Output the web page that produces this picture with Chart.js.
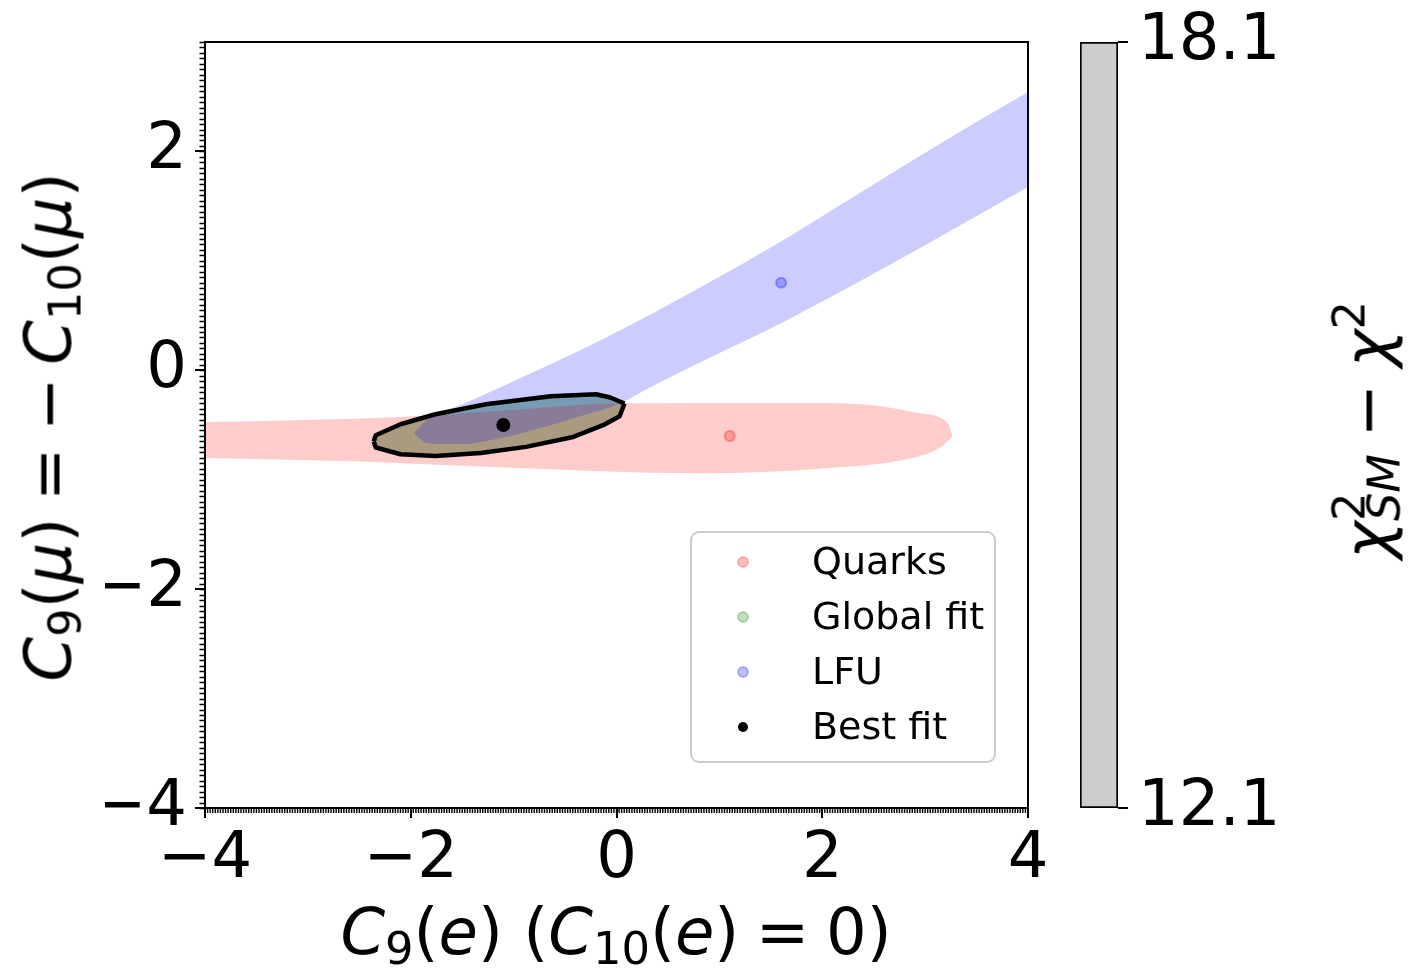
<!DOCTYPE html>
<html>
<head>
<meta charset="utf-8">
<script src="https://cdn.jsdelivr.net/npm/chart.js@4.4.1/dist/chart.umd.min.js"></script>
<style>
body { margin: 0; background: #fff; }
#wrap { position: relative; width: 1424px; height: 979px; overflow: hidden; font-family: 'DejaVu Sans'; }
canvas { position: absolute; top: 0; }
.lbl { position: absolute; font-size: 64px; line-height: 64px; white-space: nowrap; color: #000; }
.i { font-style: italic; }
.sb { font-size: 0.7em; position: relative; top: 0.23em; }
.sp { font-size: 0.7em; position: relative; top: -0.55em; }
.op { margin: 0 -0.06em; }
</style>
</head>
<body>
<div id="wrap">
  <canvas id="main" width="1424" height="979" style="left:0"></canvas>
  <canvas id="cbar" width="354" height="979" style="left:1070px"></canvas>
  <div class="lbl" id="xt" style="left:616px; top:900px; transform:translateX(-50%)"><span class="i">C</span><span class="sb">9</span>(<span class="i">e</span>) (<span class="i">C</span><span class="sb">10</span>(<span class="i">e</span>)<span class="op"> = </span>0)</div>
  <div class="lbl" id="yt" style="left:52px; top:427px; transform:translate(-50%,-50%) rotate(-90deg)"><span class="i">C</span><span class="sb">9</span>(<span class="i">μ</span>)<span class="op"> = </span>−<span class="op"> </span><span class="i">C</span><span class="sb">10</span>(<span class="i">μ</span>)</div>
  <div class="lbl" id="ct" style="left:1371px; top:430px; transform:translate(-50%,-50%) rotate(-90deg)"><span class="i">χ</span><span class="sp">2</span><span class="sb i" style="margin-left:-0.636em">SM</span><span class="op"> − </span><span class="i">χ</span><span class="sp">2</span></div>
</div>
<script>
// axis ranges and ticks
const xRange = [-4, 4];
const yRange = [-4, 3];
const xTicks = [-4, -2, 0, 2, 4];
const yTicks = [-4, -2, 0, 2];
const xMinorStep = 0.025;
const yMinorStep = 0.05;
const cbarRange = [12.1, 18.1];
const cbarTicks = [12.1, 18.1];

// global fit contour (upper and lower edge, shared end points)
const globalUpper = [[-2.36, -0.65], [-2.34, -0.594], [-2.10, -0.493], [-1.76, -0.402], [-1.27, -0.311],
  [-0.64, -0.237], [-0.20, -0.219], [-0.06, -0.249], [0.078, -0.304]];
const globalLower = [[-2.36, -0.65], [-2.34, -0.706], [-2.10, -0.767], [-1.76, -0.783], [-1.32, -0.755],
  [-0.88, -0.700], [-0.42, -0.609], [-0.13, -0.502], [0.03, -0.420], [0.078, -0.304]];

// quarks band
const quarksUpper = [[-4.3, -0.48], [-2.10, -0.426], [-1.13, -0.37], [0.09, -0.301], [2.03, -0.299],
  [2.57, -0.329], [2.95, -0.393], [3.22, -0.484], [3.265, -0.603]];
const quarksLower = [[-4.3, -0.795], [-2.59, -0.831], [-1.13, -0.886], [0.82, -0.941], [2.03, -0.895],
  [2.86, -0.804], [3.15, -0.703], [3.265, -0.603]];

// LFU band
const lfuUpper = [[-1.97, -0.575], [-1.81, -0.429], [-1.52, -0.320], [-0.77, 0.0], [-0.155, 0.274],
  [0.82, 0.761], [1.59, 1.172], [2.30, 1.583], [3.08, 2.034], [4.0, 2.542], [4.2, 2.65]];
const lfuLower = [[-1.97, -0.575], [-1.84, -0.667], [-1.52, -0.676], [-1.13, -0.621], [-0.64, -0.502],
  [-0.32, -0.411], [0.04, -0.301], [0.33, -0.155], [0.82, 0.076], [1.59, 0.426], [2.44, 0.852],
  [3.08, 1.187], [4.0, 1.674], [4.2, 1.78]];

// best fit points
const quarksPoint = [1.1, -0.6];
const lfuPoint = [1.6, 0.8];
const bestFit = [-1.1, -0.5];

const legendLabels = ['Quarks', 'Global fit', 'LFU', 'Best fit'];
const legendColors = ['rgba(255,0,0,0.25)', 'rgba(0,128,0,0.25)', 'rgba(0,0,255,0.25)', '#000'];

const pts = arr => arr.map(p => ({x: p[0], y: p[1]}));
const fmt = v => (v < 0 ? '\u2212' : '') + Math.abs(v);
const noPad = s => { s.paddingTop = 0; s.paddingBottom = 0; s.paddingLeft = 0; s.paddingRight = 0; };

function edge(data, order, extra) {
    return Object.assign({
        data: pts(data),
        showLine: true,
        pointRadius: 0,
        borderWidth: 1,
        borderColor: 'rgba(0,0,0,0)',
        tension: 0,
        fill: false,
        order: order
    }, extra);
}

// smooth band edge
function band(data, order, extra) {
    return edge(data, order, Object.assign({cubicInterpolationMode: 'monotone'}, extra));
}

function marker(p, order, radius, fillColor, lineColor) {
    return {
        data: pts([p]),
        showLine: false,
        pointRadius: radius,
        pointBackgroundColor: fillColor,
        pointBorderColor: lineColor,
        pointBorderWidth: 2,
        order: order
    };
}

const frameAndMinor = {
    id: 'frameAndMinor',
    afterDraw(chart) {
        const {ctx, chartArea: a, scales: {x, y}} = chart;
        ctx.save();
        ctx.strokeStyle = '#000';
        ctx.lineWidth = 1.4;
        ctx.beginPath();
        for (let v = xRange[0]; v <= xRange[1] + 1e-9; v += xMinorStep) {
            const px = x.getPixelForValue(v);
            ctx.moveTo(px, a.bottom);
            ctx.lineTo(px, a.bottom + 5);
        }
        ctx.stroke();
        ctx.lineWidth = 1.6;
        ctx.beginPath();
        for (let v = yRange[0]; v <= yRange[1] + 1e-9; v += yMinorStep) {
            const py = Math.round(y.getPixelForValue(v)) + 0.5;
            ctx.moveTo(a.left, py);
            ctx.lineTo(a.left - 5.5, py);
        }
        ctx.stroke();
        ctx.lineWidth = 2;
        ctx.strokeRect(a.left, a.top, a.right - a.left, a.bottom - a.top);
        ctx.restore();
    }
};

const boxLegend = {
    id: 'boxLegend',
    afterDraw(chart) {
        const {ctx, chartArea: a} = chart;
        const w = 304, h = 230;
        const bx = a.right - 33 - w, by = a.bottom - 46 - h;
        ctx.save();
        ctx.beginPath();
        ctx.roundRect(bx, by, w, h, 8);
        ctx.fillStyle = 'rgba(255,255,255,0.8)';
        ctx.fill();
        ctx.strokeStyle = '#cccccc';
        ctx.lineWidth = 2;
        ctx.stroke();
        ctx.font = '38px "DejaVu Sans"';
        ctx.textBaseline = 'middle';
        legendLabels.forEach((label, i) => {
            const cy = by + 30 + i * 55;
            const cx = bx + 52;
            ctx.beginPath();
            ctx.arc(cx, cy, 5, 0, Math.PI * 2);
            ctx.fillStyle = legendColors[i];
            ctx.fill();
            if (i < 3) {
                ctx.strokeStyle = legendColors[i];
                ctx.lineWidth = 2;
                ctx.stroke();
            }
            ctx.fillStyle = '#000';
            ctx.fillText(label, bx + 121, cy + 2);
        });
        ctx.restore();
    }
};

Chart.defaults.font.family = 'DejaVu Sans';
Chart.defaults.color = '#000';

new Chart(document.getElementById('main'), {
    type: 'scatter',
    data: {
        datasets: [
            edge(globalUpper, 10, {fill: '+1', backgroundColor: '#95c2a0'}),
            edge(globalLower, 10),
            band(quarksUpper, 9, {fill: '+1', backgroundColor: 'rgba(255,0,0,0.2)'}),
            band(quarksLower, 9),
            band(lfuUpper, 8, {fill: '+1', backgroundColor: 'rgba(0,0,255,0.2)'}),
            band(lfuLower, 8),
            edge(globalUpper, 2, {borderColor: '#000', borderWidth: 4.5, borderJoinStyle: 'round'}),
            edge(globalLower, 2, {borderColor: '#000', borderWidth: 4.5, borderJoinStyle: 'round'}),
            marker(quarksPoint, 1, 5, 'rgba(255,0,0,0.25)', 'rgba(255,0,0,0.3)'),
            marker(lfuPoint, 1, 5, 'rgba(0,0,255,0.25)', 'rgba(0,0,255,0.3)'),
            marker(bestFit, 0, 6, '#000', '#000')
        ]
    },
    options: {
        responsive: false,
        animation: false,
        events: [],
        layout: {padding: {left: 105, top: 42, right: 396, bottom: 91}},
        plugins: {legend: {display: false}, tooltip: {enabled: false}},
        scales: {
            x: {
                type: 'linear',
                min: xRange[0],
                max: xRange[1],
                afterBuildTicks: s => { s.ticks = xTicks.map(v => ({value: v})); },
                afterFit: s => { s.height = 80; noPad(s); },
                grid: {drawOnChartArea: false, tickLength: 10, color: '#000', lineWidth: 2},
                border: {display: false},
                ticks: {font: {size: 64}, padding: 4, maxRotation: 0, callback: fmt}
            },
            y: {
                type: 'linear',
                min: yRange[0],
                max: yRange[1],
                afterBuildTicks: s => { s.ticks = yTicks.map(v => ({value: v})); },
                afterFit: s => { s.width = 100; noPad(s); },
                grid: {drawOnChartArea: false, tickLength: 10, color: '#000', lineWidth: 2},
                border: {display: false},
                ticks: {font: {size: 64}, padding: 8, callback: fmt}
            }
        }
    },
    plugins: [frameAndMinor, boxLegend]
});

new Chart(document.getElementById('cbar'), {
    type: 'bar',
    data: {
        labels: [''],
        datasets: [{
            data: [cbarRange],
            backgroundColor: '#cccccc',
            borderColor: '#000',
            borderWidth: 2,
            borderSkipped: false,
            barPercentage: 1,
            categoryPercentage: 1
        }]
    },
    options: {
        responsive: false,
        animation: false,
        events: [],
        layout: {padding: {left: 10, top: 42, right: 0, bottom: 171}},
        plugins: {legend: {display: false}, tooltip: {enabled: false}},
        scales: {
            x: {display: false},
            y: {
                position: 'right',
                min: cbarRange[0],
                max: cbarRange[1],
                afterBuildTicks: s => { s.ticks = cbarTicks.map(v => ({value: v})); },
                afterFit: s => { s.width = 306; noPad(s); },
                grid: {drawOnChartArea: false, tickLength: 10, color: '#000', lineWidth: 2},
                border: {display: false},
                ticks: {font: {size: 64}, padding: 10, callback: v => v.toFixed(1)}
            }
        }
    }
});
</script>
</body>
</html>
